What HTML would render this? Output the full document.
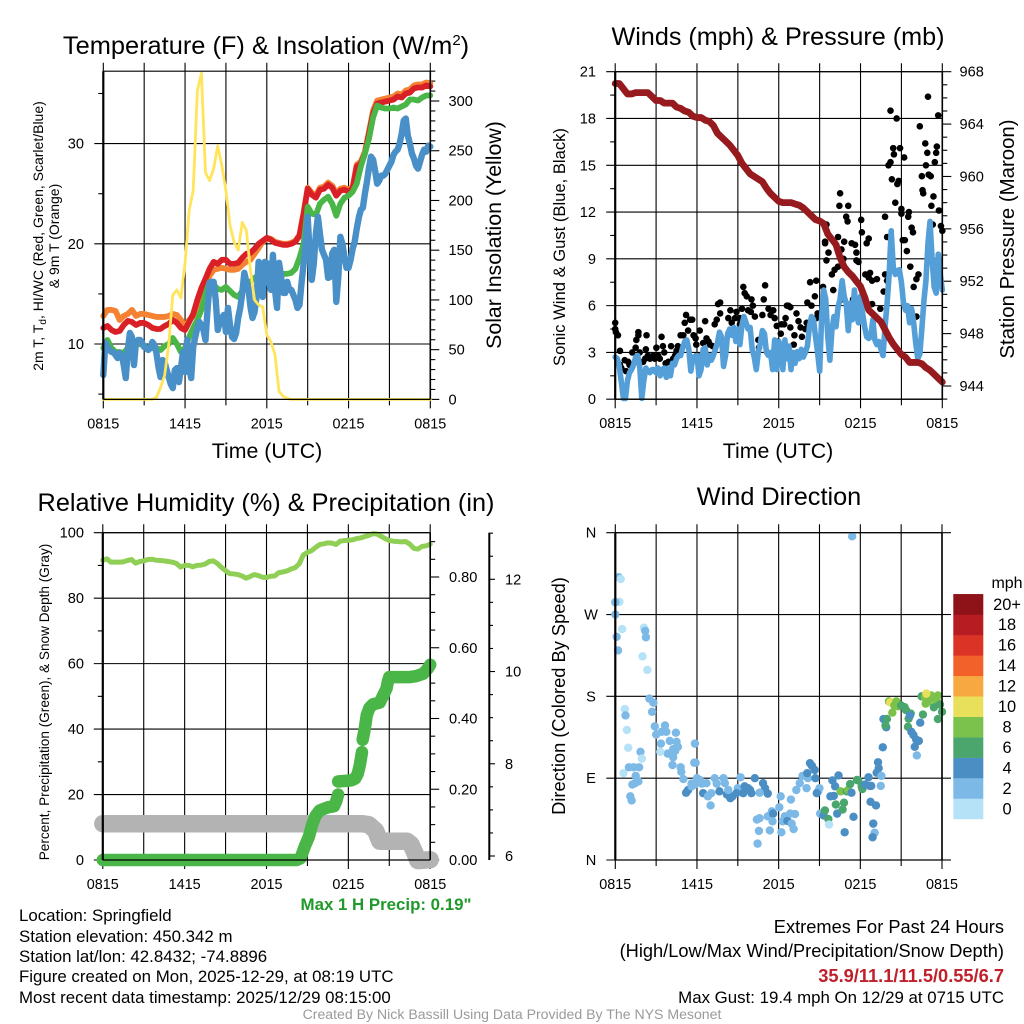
<!DOCTYPE html>
<html>
<head>
<meta charset="utf-8">
<title>Mesonet Meteogram</title>
<style>
html,body{margin:0;padding:0;background:#fff;}
svg{display:block;}
text{font-family:"Liberation Sans",Arial,sans-serif;fill:#000;}
</style>
</head>
<body>
<svg id="fig" xmlns="http://www.w3.org/2000/svg" width="1024" height="1024" viewBox="0 0 1024 1024">
  <g font-size="16.85">
    <text x="386" y="910" text-anchor="middle" font-weight="bold" style="fill:#1f9a2a">Max 1 H Precip: 0.19"</text>
    <text x="19" y="921">Location: Springfield</text>
    <text x="19" y="942">Station elevation: 450.342 m</text>
    <text x="19" y="962">Station lat/lon: 42.8432; -74.8896</text>
    <text x="19" y="982">Figure created on Mon, 2025-12-29, at 08:19 UTC</text>
    <text x="19" y="1003">Most recent data timestamp: 2025/12/29 08:15:00</text>
    <text x="1004" y="933" text-anchor="end" font-size="18.25">Extremes For Past 24 Hours</text>
    <text x="1004" y="957" text-anchor="end" font-size="18.25">(High/Low/Max Wind/Precipitation/Snow Depth)</text>
    <text x="1004" y="982" text-anchor="end" font-weight="bold" font-size="18.25" style="fill:#c0202a">35.9/11.1/11.5/0.55/6.7</text>
    <text x="1004" y="1003" text-anchor="end">Max Gust: 19.4 mph On 12/29 at 0715 UTC</text>
    <text x="512" y="1019" text-anchor="middle" font-size="14.1" style="fill:#9a9a9a">Created By Nick Bassill Using Data Provided By The NYS Mesonet</text>
  </g>
</svg>
<script>
// ---- Shared axis categories ----
const timeTickHours = [0, 3, 6, 9, 12, 15, 18, 21, 24];
const timeTickLabels = ["0815", "", "1415", "", "2015", "", "0215", "", "0815"];

// ---- Panel 1: temperature (F) on an even time grid across 24 h ----
const tempOrange = [12.8,13.4,13.4,13.3,12.4,12.8,13,13.4,12.8,13,13,12.9,12.8,12.7,12.7,12.7,12.8,13,12.9,12.4,11.8,12.4,12.8,14,15,15.9,16.8,17.4,17.5,17.6,17.5,17.4,17.4,17.5,17.9,18.2,18.4,19,19.6,20.2,20.5,20.5,20.2,20.1,20,20,20.1,20.3,20.9,23.1,25.6,25.1,24.8,25.6,25.7,26.1,25.8,25,25.5,25.6,25.4,25.7,27.9,28.2,29.2,31.2,33.3,34.3,34.4,34.5,34.6,34.7,35,34.9,35.3,35.4,35.8,35.9,35.9,36.1,36];
const tempRed = [11.6,11.8,11.4,11.2,11.3,11.9,12.3,12.2,11.9,12.1,12.1,11.9,11.6,11.5,11.5,11.8,12,12.4,12.1,11.6,11.4,12.2,13,14.4,15.6,16.5,17.5,18.2,18,18.4,18.4,18,18,18.1,18.6,19,19.1,19.5,20,20.3,20.6,20.4,20.1,20,19.9,19.9,20,20.2,20.8,23,25.5,24.9,24.6,25.4,25.5,25.9,25.6,24.8,25.3,25.4,25.2,25.5,27.7,28,29,31,33,34,34.1,34.2,34.3,34.4,34.7,34.6,35,35.1,35.5,35.6,35.6,35.8,35.7];
const tempGreen = [9.6,10.4,9.6,9.2,9.2,9.1,9.6,10.4,10,10,9.8,9.6,9.6,9.6,9.4,9.8,10,10.6,10,9.2,9.6,10.7,11.6,12.4,13.4,15,16.2,15.9,15.5,15.4,15.7,15.3,14.9,14.7,15.3,16,16.2,16.6,16.8,17,17,17,17,17,17,17,17.1,17.5,18.6,20,23.7,23,22.9,24,24.4,24.7,24,22.8,24,24.6,24.8,25.2,26,27.7,29,30.5,32.6,33.8,33.6,33.5,33.5,33.6,33.5,33.7,33.9,34.4,34.4,34.3,34.6,34.8,34.8];
const tempBlue = [6.9,10.1,9.7,9.4,9.2,9.2,8.9,8.6,9.1,8.9,7.9,6.6,9.4,11.1,10.7,7.9,10.2,10.4,10.4,10.1,9.7,9.6,9.4,9.6,10.2,9.9,9.1,7.7,6.7,8.4,8.2,7.4,6.7,6,5.6,7.4,7.6,6.2,7.6,9.2,7.2,10.4,7.6,6.6,9.7,10.7,11.6,12.2,11.9,11.4,10.4,13.4,16.1,16.2,16.2,14.4,11.4,12.2,12.6,12.9,11.2,13.6,11.9,10.7,10.5,11.1,12.6,13.6,15.1,17.1,16.2,15.6,13.7,12.6,13.2,14.7,18.2,16.1,14.7,18.2,18.1,16.4,15.4,18.9,15.4,13.6,18.1,16.7,15.1,15.1,16.2,15.4,15.4,14.9,14.4,13.6,13.9,16.1,18,20,22.7,19,16.4,18,21,22.7,21,19.4,18.9,18.4,16.6,16.7,19.05,19.4,14.2,16.7,20.7,20,18.7,17.6,17.6,18.4,19.5,20.2,21.5,22.6,23.4,23.6,25,26.2,27.6,28.7,28.4,27.3,26,26.3,26.8,26.8,27,27.4,27.8,28.2,28.9,29.2,29.4,30,31,32.3,32.5,30.8,30,29,28.5,27.8,27.5,28.2,28.9,29.4,29.2,29.8,29.7];
const insolation = [0,0,0,0,0,0,0,0,0,0,0,0,0,2,12,24,55,105,110,102,137,190,210,310,328,228,220,232,255,235,210,175,158,150,178,170,130,100,95,93,65,58,45,8,3,1,0,0,0,0,0,0,0,0,0,0,0,0,0,0,0,0,0,0,0,0,0,0,0,0,0,0,0,0,0,0,0,0,0,0,0];
const tempTicks = [10, 20, 30];
const tempMinorTicks = [5, 15, 25, 35];
const solarTicks = [0, 50, 100, 150, 200, 250, 300];
const solarMinorTicks = [10,20,30,40,60,70,80,90,110,120,130,140,160,170,180,190,210,220,230,240,260,270,280,290,310,320,330];

// ---- Panel 2: wind (mph) and pressure (mb) ----
const pressure = [967.1,967.1,966.7,966.3,966.3,966.4,966.4,966.4,966.4,966.1,965.8,965.8,965.6,965.6,965.6,965.3,965.2,965,964.9,964.6,964.5,964.5,964.3,964.2,963.9,963.3,963,962.7,962.4,962,961.6,961,960.6,960.2,960,959.8,959.6,959.1,958.7,958.4,958.1,958,958,958,957.9,957.8,957.6,957.3,957,956.7,956.6,956.4,955.6,955.2,954.8,953.8,953.1,952.7,952.4,952,951.6,950.8,949.8,949.5,949.2,948.9,948.3,947.7,947.2,946.8,946.4,946.2,945.8,945.8,945.8,945.7,945.4,945.2,944.9,944.6,944.3];
const windSpeed = [2.7,2.6,2.1,1.1,0.05,0.05,1.2,1.7,1.9,2.2,2.7,2.8,2.1,0.05,1.2,2,1.8,1.7,1.9,1.9,1.7,2,1.5,1.9,2,1.4,2,1.5,2.3,2.2,2.6,2.8,2.8,3.3,3.7,3.8,3.2,1.8,2.7,2.7,2.8,1.5,1.9,3.2,3.3,2.2,2.8,2.5,2.8,3.2,3.6,4.3,4,2.1,2.8,4.2,4.5,4.1,4.6,3.7,4.5,3.5,4.75,5.3,4.9,4.5,4.6,3.2,2.7,1.9,3,3.6,4.4,4.2,3,2.8,3,1.9,3.8,1.9,3.7,3.4,1.9,3.8,2.6,3.4,1.9,3,2.3,3.05,2.6,3.2,2.7,3,3.4,4.65,5.3,5.1,4,3,1.8,5.3,7,6.4,4,2.5,4.4,5.3,4.65,5.9,6.4,7.6,6.6,6.15,4.4,6.15,5.1,7,5.5,4.9,6.6,5.5,4.65,4,3.9,4,5.1,3.8,3.5,3.7,3.2,2.8,4.65,6.15,8,10.8,8.5,8,8.2,8.3,7.5,6.2,5.7,6,4.9,5.8,4.9,3.6,2.6,2.9,4.5,6.3,7.6,10,11.4,9,7.2,6.8,9.3,8,7];
const gustHours = [0,0,0.05,0.2,0.35,0.35,0.45,0.7,0.8,0.95,1.05,1.25,1.5,1.55,1.7,1.7,1.8,2.05,2.2,2.3,2.25,2.4,2.55,2.8,2.9,
3.02,3.15,3.27,3.4,3.5,3.6,3.7,3.9,4.1,4.25,4.4,4.5,4.6,4.8,5,5.1,5.2,5.5,5.35,5.65,5.75,5.95,6,5.9,
6.2,6.45,6.6,6.7,6.95,6.85,7.15,7.3,7.45,7.55,7.7,7.7,7.95,8,8.3,8.45,8.55,8.8,8.9,
9.15,9.15,9.3,9.4,9.5,9.65,9.75,10,9.95,10.1,10.25,10.5,10.55,10.8,10.9,11,11.25,11.4,11.6,11.7,11.85,11.95,
12.15,12.2,12.4,12.5,12.6,12.7,12.85,12.85,13.1,13.15,13.3,13.45,13.6,13.7,13.95,14.05,14.1,14.3,14.4,14.65,14.75,14.75,14.85,
15.25,15.4,15.5,15.65,15.9,16,16.1,16.35,16.35,16.5,16.45,16.6,16.75,16.8,16.6,17.1,16.95,17.05,17.35,17.6,17.7,17.7,17.45,15.4,15.5,17.85,
18.05,18.1,18.6,18.45,18.35,18.6,18.85,18.7,18.85,19.2,19.45,19.7,19.8,19.95,19.8,19.95,20.05,20.2,20.3,20.4,20.45,20.2,20.65,20.55,20.8,20.7,20.9,21,21,
21.2,21.1,21.25,21.4,21.5,21.55,21.75,21.85,21.65,22.1,21.9,22.25,22.1,22.35,22.75,22.5,22.55,22.6,22.8,22.9,22.95,23,23.15,23.2,23.35,23.55,23.45,23.6,23.7,23.75,23.3,23.9,24];
const gustSpeed = [4.5,4.9,4.3,4.1,3.1,2.2,2,2.5,1.8,2.4,2.2,3,3.3,3.8,4.3,4.1,3,2.4,2.6,4.1,3.2,2.8,2.6,2.8,2.6,
3.3,2.8,2.6,4,3.4,3,2.3,2.4,3.4,2.6,2.8,3.1,3.4,4.1,4.1,4.9,5.4,5.1,4.4,5.1,4.1,3.5,2.8,3.9,
4.4,3.6,5,3.9,3.5,3.7,3.4,4.8,5.1,6.1,6.2,5.5,3.5,2.9,5.2,5.7,4.9,5.2,5.6,
4.8,5.2,5.8,7.2,6.8,6.6,5.7,6.4,5.6,6,5.3,3.8,3.3,5.4,6.4,7.3,5.8,5.4,5.7,5.2,4.7,3.7,
4.2,4.8,4.8,5.2,6,6,5.9,4.6,3.5,4.1,5.5,5,4.6,4,4.5,4.9,6.2,7.5,6,6.6,7.6,5.2,5.5,
7.2,10,8.9,9.4,8,7,8.3,10.4,8.5,13.2,12.4,9.6,9,10.1,6.4,12.4,11.7,11.4,10,9.9,9.4,8.9,6.4,10.1,11.2,8.8,
11.5,10.7,10.3,10,8,7.8,7.6,8.1,6.1,7.7,5.8,6.9,8,7.6,11.7,10.4,15,15.2,14.1,16.1,15.7,18.5,18,12.6,14,13.8,16.1,11.9,12.2,
15.5,10.2,10.2,9.5,11.7,12,11,10.7,8.5,7.7,7.2,8,5.3,17.5,16.4,14.3,13.4,13.2,15,15.8,19.4,14.4,14.3,12.4,13,15.8,15.2,16.2,18.2,12.1,11.2,11.1,10.8];
const windTicks = [0, 3, 6, 9, 12, 15, 18, 21];
const windMinorTicks = [1.5,4.5,7.5,10.5,13.5,16.5,19.5];
const pressureTicks = [944, 948, 952, 956, 960, 964, 968];
const pressureMinorTicks = [943,945,946,947,949,950,951,953,954,955,957,958,959,961,962,963,965,966,967];

// ---- Panel 3: humidity, precipitation, snow ----
const humidity = [91.6,92,91,91,91,91.1,91.5,91.8,90.7,91.2,91.4,91.8,91.9,91.6,91.5,91.4,91.2,91,90.6,89.5,90,90,89.6,90,90.1,90.4,91.2,91.4,90.6,89.4,88.4,87.5,87.4,87.2,86.8,86.1,86.6,87.2,86.9,86.4,86.3,86.7,86.8,87.8,88,88.3,88.9,89.3,90.5,93.2,94,94.5,95.5,96.4,96.6,96.9,96.8,96.4,97.4,97.6,97.7,97.8,98.2,98.4,98.8,99.2,99.7,99.6,98.9,98.2,97.6,97.4,97.3,97.2,97.3,96.5,95.2,95,95.8,96,96.5];
const precipHours = [0,14.2,14.5,14.8,15.1,15.35,15.6,15.9,16.5,16.95,17.1,17.25,17.25,18.2,18.5,18.7,18.85,19,19.05,19.2,19.35,19.55,19.8,20.3,20.55,20.8,20.9,21,22.5,23,23.5,23.8,24];
const precipInches = [0,0,0.005,0.038,0.065,0.1,0.125,0.14,0.149,0.152,0.165,0.185,0.222,0.225,0.23,0.245,0.27,0.305,0.34,0.37,0.41,0.43,0.44,0.445,0.465,0.485,0.505,0.517,0.517,0.52,0.527,0.54,0.552];
const snowHours = [0,19,19.5,20,20.3,22.3,22.6,22.9,23.1,24];
const snowDepth = [6.7,6.7,6.68,6.55,6.32,6.32,6.25,6.05,5.9,5.92];
const percentTicks = [0, 20, 40, 60, 80, 100];
const percentMinorTicks = [10, 30, 50, 70, 90];
const precipTicks = [0, 0.2, 0.4, 0.6, 0.8];
const precipMinorTicks = [0.05,0.1,0.15,0.25,0.3,0.35,0.45,0.5,0.55,0.65,0.7,0.75,0.85,0.9];
const snowTicks = [6, 8, 10, 12];
const snowMinorTicks = [6.5,7,7.5,8.5,9,9.5,10.5,11,11.5,12.5,13];

// ---- Panel 4: wind direction coloured by speed ----
const dirHours = [.25,.4,17.4,.3,0,0,.5,2.1,2.2,2.25,.1,.2,2,2.35,
2.5,2.8,2.7,.7,.75,.85,.95,1.85,1.95,.6,1,1.35,1.75,1.5,1.7,1.25,1.45,1.1,1.2,
2.9,3.65,3.75,3.4,3,4.45,5.85,4,4.5,3.35,4.6,4.25,3.85,4.4,3.3,4.25,4.2,4.8,4.85,5,5.8,5.9,6,
5.2,5.35,5.6,5.85,6.2,6.35,5.6,6.7,6.45,7.05,6.8,7,7.3,7.45,7.95,8.05,7.65,8.2,8.45,8.6,8.3,9.2,9,8.9,9.4,9.5,9.75,10,9.9,10.25,10.85,11,10.6,11.2,
10.4,10.6,10.55,10.45,11.35,11.2,11.5,11.6,11.55,12.05,12.15,12.2,12.3,12.45,12.65,12.85,13.2,12.9,12.95,13.1,
13.3,13.55,13.75,14.05,14.15,14.1,14.3,14.45,14.65,14.7,15,14.9,14.8,
15.05,15.3,15.4,15.65,15.7,15.8,16.05,15.95,16.15,16.4,16.2,16.3,16.55,16.8,16.7,16.85,17,17.1,17.35,17.25,17.5,17.75,17.85,18.1,18.15,18.35,18.6,18.7,18.8,
18.75,19.15,18.95,19.05,18.9,
19.2,19.35,19.3,19.55,19.5,19.65,19.7,19.9,19.95,19.85,20.1,20.2,20.35,20.5,20.65,20.75,21,21.25,21.35,21.55,21.7,21.5,21.65,
21.75,21.9,22.1,22.3,22,22.15,22.4,22.6,
22.5,22.75,22.9,22.8,22.95,23.1,23.2,23.45,23.6,23.4,23.7,23.85,24,23.7,22.85];
const dirDegrees = [311,309,356,284,283.5,270,254,255.5,252,245,245.5,230.5,224,209,
177.5,173,163,166,159,143,123.5,119,111.5,95.5,102,102,102,92.5,86.5,83,84.5,70,65.5,
147,148,141,141,138,140,128,131,130,128,124.5,122,117,120,119,113,104.5,102,97,89,107,107,90,
74,77,84,83,88,84,81,84.5,73.5,73.5,70,60,90,84,90,84.5,75.5,72,68,70,77,91,79,73.5,73.5,81,79,73.5,77,90,84.5,79,74,73,
44.5,46,32,18,32.5,48,53.5,51,42.5,58,70,30.5,42.5,48,43,51,50.5,66.5,40,34,
77,84.5,92.5,79,90,95.5,106.5,103.5,99,90,79,75.5,73.5,
51,49,54.5,45,39,70,70.5,87.5,81,93,61,51,75.5,63,55.5,30.5,75.5,77,74,83.5,47.5,88,87.5,81,78,83,91,81.5,81.5,
64,60,40,30,25,
96,101,107.5,92.5,81.5,124,155,146,155,148,174.5,173.5,162,170,174.5,169,170,168,165,155.5,161,146.5,159,
141,137.5,132.5,131,124.5,115,151,160,
180,179,182,172,174,176.5,181,179,175.5,168,181,171,163,155,183];
const dirSpeed = [2,0,2,0,2,2,0,0,2,2,2,2,0,0,
2,2,2,0,2,0,0,2,0,0,2,2,2,2,2,2,2,2,2,
2,2,2,2,2,2,2,2,2,2,2,2,2,2,0,2,2,2,2,2,2,2,2,
4,4,2,2,2,2,2,2,4,2,2,2,2,2,2,2,4,4,4,4,2,2,2,4,4,4,4,4,4,4,4,4,2,4,
2,2,2,2,2,2,2,4,2,2,2,2,2,2,4,2,2,2,2,2,
2,2,2,2,2,4,4,4,4,4,2,2,4,
2,4,6,6,0,4,4,4,4,4,6,4,8,6,6,4,6,8,4,6,4,6,6,6,6,4,4,4,4,
4,4,4,2,4,
4,4,4,2,2,4,4,4,6,6,8,10,8,8,8,8,6,6,6,6,6,6,4,
4,4,4,4,4,2,4,6,
6,8,12,8,8,8,8,8,8,6,8,6,6,6,10];
const speedLevels = ["0","2","4","6","8","10","12","14","16","18","20+"];
const speedColors = ["#b5e2f7","#7cb9e6","#4a8ec4","#4aa66d","#7ac24b","#e8e05a","#f7a840","#f26129","#dc3327","#b71c23","#8e1318"];
const dirTicks = [0, 90, 180, 270, 360];
const dirTickLabels = ["N", "E", "S", "W", "N"];

// ---- Drawing helpers ----
const svg = document.getElementById('fig');
const NS = 'http://www.w3.org/2000/svg';
function make(tag, parent, name, props) {
  const el = document.createElementNS(NS, tag);
  for (const k in props) el.setAttribute(k, props[k]);
  
  
  parent.appendChild(el);
  return el;
}
function text(parent, name, str, x, y, size, anchor, rot) {
  const t = make('text', parent, name, {x: x, y: y, 'font-size': size, 'text-anchor': anchor || 'middle'});
  if (rot) t.setAttribute('transform', 'rotate(' + rot + ' ' + x + ' ' + y + ')');
  t.textContent = str;
  return t;
}
function seg(parent, name, x1, y1, x2, y2, w, color) {
  return make('line', parent, name, {x1: x1, y1: y1, x2: x2, y2: y2, stroke: color || '#000', 'stroke-width': w || 1.1});
}
function trace(parent, name, xs, ys, w, color) {
  const pts = xs.map((x, i) => x.toFixed(2) + ',' + ys[i].toFixed(2)).join(' ');
  return make('polyline', parent, name, {points: pts, fill: 'none', stroke: color, 'stroke-width': w, 'stroke-linecap': 'round', 'stroke-linejoin': 'round'});
}
function linear(d0, d1, p0, p1) {
  return v => p0 + (v - d0) * (p1 - p0) / (d1 - d0);
}
function evenHours(arr) {
  return arr.map((_, i) => i * 24 / (arr.length - 1));
}
function panelBase(name, L, R, T, B) {
  const g = make('g', svg, name, {});
  const xs = linear(0, 24, L, R);
  const grid = make('g', g, name + '-grid', {});
  timeTickHours.forEach((h, i) => {
    const major = timeTickLabels[i] !== "";
    seg(grid, 'time-gridline', xs(h), T - 8.5, xs(h), B + (major ? 9 : 6));
    if (major) text(g, 'time-tick-label', timeTickLabels[i], xs(h), B + 29, 14.4);
  });
  return {g: g, grid: grid, xs: xs, L: L, R: R, T: T, B: B};
}
function leftAxis(p, scale, ticks, minor, labels, labelX, anchor) {
  ticks.forEach((v, i) => {
    seg(p.grid, 'y-gridline', p.L - 9, scale(v), p.R, scale(v));
    text(p.g, 'y-tick-label', labels ? labels[i] : String(v), labelX, scale(v) + 5, 14.6, anchor || 'end');
  });
  minor.forEach(v => {
    seg(p.grid, 'y-minor-tick', p.L - 5, scale(v), p.L, scale(v));
  });
}
function rightAxis(p, scale, ticks, minor, fmt, labelX) {
  ticks.forEach(v => {
    seg(p.grid, 'right-axis-tick', p.R, scale(v), p.R + 9, scale(v));
    text(p.g, 'right-axis-label', fmt(v), labelX, scale(v) + 5, 14.6, 'start');
  });
  minor.forEach(v => {
    seg(p.grid, 'right-axis-minor-tick', p.R, scale(v), p.R + 5, scale(v));
  });
}
function frame(p) {
  seg(p.g, 'plot-frame-top', p.L, p.T, p.R, p.T, 1.1);
  seg(p.g, 'plot-frame-bottom', p.L, p.B, p.R, p.B, 1.3);
  seg(p.g, 'plot-frame-left', p.L, p.T, p.L, p.B, 2.2);
  seg(p.g, 'plot-frame-right', p.R, p.T, p.R, p.B, 1.6);
}

// ---- Panel 1 ----
(function () {
  const p = panelBase('temperature-panel', 103.3, 430.3, 71.2, 399.4);
  const yT = linear(10, 30, 344.0, 143.6);
  const yS = linear(0, 300, 399.4, 101);
  leftAxis(p, yT, tempTicks, tempMinorTicks, null, 84);
  rightAxis(p, yS, solarTicks, solarMinorTicks, String, 448.5);
  const s = make('g', p.g, 'temperature-series', {});
  trace(s, 'orange-9m-temperature-line', evenHours(tempOrange).map(p.xs), tempOrange.map(yT), 5.8, '#f58233');
  trace(s, 'red-2m-temperature-line', evenHours(tempRed).map(p.xs), tempRed.map(yT), 5.8, '#da2027');
  trace(s, 'green-dewpoint-line', evenHours(tempGreen).map(p.xs), tempGreen.map(yT), 5.8, '#4ab648');
  trace(s, 'blue-wind-chill-line', evenHours(tempBlue).map(p.xs), tempBlue.map(yT), 6.4, '#4a90c8');
  trace(s, 'yellow-insolation-line', evenHours(insolation).map(p.xs), insolation.map(yS), 2.8, '#ffe45c');
  frame(p);
  const title = text(p.g, 'temperature-title', 'Temperature (F) & Insolation (W/m', 266, 54, 25.4);
  const sup = document.createElementNS(NS, 'tspan');
  sup.setAttribute('dy', '-9');
  sup.setAttribute('font-size', '15');
  
  
  sup.textContent = '2';
  title.appendChild(sup);
  const close = document.createElementNS(NS, 'tspan');
  close.setAttribute('dy', '9');
  
  
  close.textContent = ')';
  title.appendChild(close);
  text(p.g, 'temperature-x-axis-title', 'Time (UTC)', 267, 458, 21.3);
  const yt = text(p.g, 'temperature-y-axis-title', '2m T, T', 43, 236, 14, 'middle', -90);
  const sub = document.createElementNS(NS, 'tspan');
  sub.setAttribute('dy', '3');
  sub.setAttribute('font-size', '10');
  
  
  sub.textContent = 'd';
  yt.appendChild(sub);
  const rest = document.createElementNS(NS, 'tspan');
  rest.setAttribute('dy', '-3');
  
  
  rest.textContent = ', HI/WC (Red, Green, Scarlet/Blue)';
  yt.appendChild(rest);
  text(p.g, 'temperature-y-axis-title-line2', '& 9m T (Orange)', 59, 236, 14, 'middle', -90);
  text(p.g, 'solar-axis-title', 'Solar Insolation (Yellow)', 501, 235, 21.3, 'middle', -90);
})();

// ---- Panel 2 ----
(function () {
  const p = panelBase('winds-panel', 615.2, 942.3, 71.7, 399.2);
  const yW = linear(0, 21, 399.2, 71.7);
  const yP = linear(944, 968, 386, 71.7);
  leftAxis(p, yW, windTicks, windMinorTicks, null, 596);
  rightAxis(p, yP, pressureTicks, pressureMinorTicks, String, 959.5);
  const s = make('g', p.g, 'winds-series', {});
  gustHours.forEach((h, i) => {
    make('circle', s, 'gust-point', {cx: p.xs(h), cy: yW(gustSpeed[i]), r: 3.3, fill: '#000'});
  });
  trace(s, 'sonic-wind-line', evenHours(windSpeed).map(p.xs), windSpeed.map(yW), 5.6, '#559fd9');
  trace(s, 'station-pressure-line', evenHours(pressure).map(p.xs), pressure.map(yP), 6.8, '#961a1e');
  frame(p);
  text(p.g, 'winds-title', 'Winds (mph) & Pressure (mb)', 778, 45, 25.2);
  text(p.g, 'winds-x-axis-title', 'Time (UTC)', 778, 458, 21.3);
  text(p.g, 'winds-y-axis-title', 'Sonic Wind & Gust (Blue, Black)', 565, 247, 16.6, 'middle', -90);
  text(p.g, 'pressure-axis-title', 'Station Pressure (Maroon)', 1014, 239, 20.4, 'middle', -90);
})();

// ---- Panel 3 ----
(function () {
  const p = panelBase('humidity-panel', 102.8, 430.2, 532.7, 860);
  const yH = linear(0, 100, 860, 532.7);
  const yR = linear(0, 0.8, 860, 577);
  const yS = linear(6, 12, 856, 579.3);
  leftAxis(p, yH, percentTicks, percentMinorTicks, null, 84);
  rightAxis(p, yR, precipTicks, precipMinorTicks, v => v.toFixed(2), 449);
  const s = make('g', p.g, 'humidity-series', {});
  trace(s, 'snow-depth-line', snowHours.map(p.xs), snowDepth.map(yS), 17.5, '#b3b3b3');
  let start = 0;
  for (let i = 1; i <= precipHours.length; i++) {
    const brk = i === precipHours.length || (precipHours[i] - precipHours[i - 1] < 0.1 && precipInches[i] - precipInches[i - 1] > 0.03);
    if (brk) {
      trace(s, 'precipitation-line', precipHours.slice(start, i).map(p.xs), precipInches.slice(start, i).map(yR), 12.5, '#4ab648');
      start = i;
    }
  }
  trace(s, 'relative-humidity-line', evenHours(humidity).map(p.xs), humidity.map(yH), 5, '#8fcf55');
  frame(p);
  const snowAxis = make('g', p.g, 'snow-depth-axis', {});
  seg(snowAxis, 'snow-axis-line', 489.3, 532.7, 489.3, 860, 2);
  snowTicks.forEach(v => {
    seg(snowAxis, 'snow-axis-tick', 489.3, yS(v), 495, yS(v));
    text(snowAxis, 'snow-axis-label', String(v), 505, yS(v) + 5, 14.6, 'start');
  });
  snowMinorTicks.forEach(v => {
    seg(snowAxis, 'snow-axis-minor-tick', 489.3, yS(v), 493, yS(v));
  });
  text(p.g, 'humidity-title', 'Relative Humidity (%) & Precipitation (in)', 266, 511, 25.3);
  text(p.g, 'humidity-y-axis-title', 'Percent, Precipitation (Green), & Snow Depth (Gray)', 49, 702, 13.6, 'middle', -90);
})();

// ---- Panel 4 ----
(function () {
  const p = panelBase('wind-direction-panel', 615.3, 942, 532.7, 860);
  const yD = linear(0, 360, 860, 532.7);
  leftAxis(p, yD, dirTicks, [], dirTickLabels, 591, 'middle');
  dirTicks.forEach(v => {
    seg(p.grid, 'direction-right-tick', p.R, yD(v), p.R + 9, yD(v));
  });
  const s = make('g', p.g, 'direction-series', {});
  function colorFor(speed) {
    const idx = Math.max(0, Math.min(speedColors.length - 1, Math.round(speed / 2)));
    return speedColors[idx];
  }
  dirHours.forEach((h, i) => {
    make('circle', s, 'wind-direction-point', {cx: p.xs(h), cy: yD(dirDegrees[i]), r: 4.2, fill: colorFor(dirSpeed[i])});
  });
  frame(p);
  text(p.g, 'wind-direction-title', 'Wind Direction', 779, 505, 25.3);
  text(p.g, 'wind-direction-y-axis-title', 'Direction (Colored By Speed)', 565, 696, 18.3, 'middle', -90);
  const bar = make('g', p.g, 'speed-colorbar', {});
  const boxH = 20.45;
  speedLevels.forEach((lab, i) => {
    const y = 819 - (i + 1) * boxH;
    make('rect', bar, 'colorbar-swatch', {x: 953.3, y: y, width: 30, height: boxH + 0.2, fill: speedColors[i]});
    text(bar, 'colorbar-label', lab, 1007, y + boxH / 2 + 5.5, 16.4);
  });
  text(bar, 'colorbar-unit-label', 'mph', 1007, 588, 16);
})();
</script>
</body>
</html>
